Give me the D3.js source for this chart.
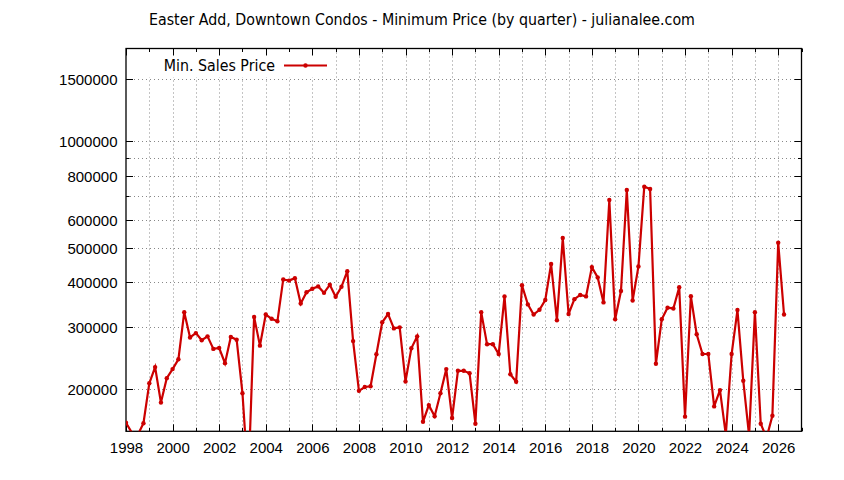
<!DOCTYPE html>
<html>
<head>
<meta charset="utf-8">
<script src="https://cdn.jsdelivr.net/npm/d3@7"></script>
<style>
  html, body { margin: 0; padding: 0; background: #fff; }
  svg { display: block; font-family: "DejaVu Sans Condensed", "DejaVu Sans", sans-serif; }
</style>
</head>
<body>
<svg id="chart" width="844" height="480"></svg>
<script>
const title = "Easter Add, Downtown Condos - Minimum Price (by quarter) - julianalee.com";
const seriesName = "Min. Sales Price";

const quarters = [
  "1998Q1","1998Q2","1998Q3","1998Q4",
  "1999Q1","1999Q2","1999Q3","1999Q4",
  "2000Q1","2000Q2","2000Q3","2000Q4",
  "2001Q1","2001Q2","2001Q3","2001Q4",
  "2002Q1","2002Q2","2002Q3","2002Q4",
  "2003Q1","2003Q2","2003Q3","2003Q4",
  "2004Q1","2004Q2","2004Q3","2004Q4",
  "2005Q1","2005Q2","2005Q3","2005Q4",
  "2006Q1","2006Q2","2006Q3","2006Q4",
  "2007Q1","2007Q2","2007Q3","2007Q4",
  "2008Q1","2008Q2","2008Q3","2008Q4",
  "2009Q1","2009Q2","2009Q3","2009Q4",
  "2010Q1","2010Q2","2010Q3","2010Q4",
  "2011Q1","2011Q2","2011Q3","2011Q4",
  "2012Q1","2012Q2","2012Q3","2012Q4",
  "2013Q1","2013Q2","2013Q3","2013Q4",
  "2014Q1","2014Q2","2014Q3","2014Q4",
  "2015Q1","2015Q2","2015Q3","2015Q4",
  "2016Q1","2016Q2","2016Q3","2016Q4",
  "2017Q1","2017Q2","2017Q3","2017Q4",
  "2018Q1","2018Q2","2018Q3","2018Q4",
  "2019Q1","2019Q2","2019Q3","2019Q4",
  "2020Q1","2020Q2","2020Q3","2020Q4",
  "2021Q1","2021Q2","2021Q3","2021Q4",
  "2022Q1","2022Q2","2022Q3","2022Q4",
  "2023Q1","2023Q2","2023Q3","2023Q4",
  "2024Q1","2024Q2","2024Q3","2024Q4",
  "2025Q1","2025Q2","2025Q3","2025Q4",
  "2026Q1","2026Q2"
];

const minPrice = [
  161000, 151000, 148500, 160500,
  208000, 231000, 183500, 215000,
  228000, 243000, 330000, 280000,
  288000, 275000, 282000, 260000,
  261500, 237000, 281000, 276000,
  195000, 110000, 320000, 265500,
  325000, 316000, 311000, 408000,
  405000, 411500, 349000, 375500,
  384000, 390000, 374000, 394000,
  364500, 389000, 430500, 273500,
  198000, 203000, 204000, 251000,
  309000, 326000, 297000, 299000,
  210500, 261000, 282000, 162000,
  180500, 168000, 195000, 228000,
  166000, 225500, 225500, 222000,
  160000, 330000, 268000, 268000,
  251500, 365500, 220500, 210000,
  393000, 347000, 325000, 335000,
  357000, 451000, 313000, 534000,
  326000, 359000, 369000, 365500,
  442000, 413500, 351500, 683000,
  315000, 378500, 729000, 356000,
  444000, 745000, 734000, 236000,
  315000, 339500, 338000, 388000,
  167500, 366000, 286000, 251500,
  251500, 179000, 199000, 149000,
  251500, 334500, 211500, 148000,
  330000, 160000, 146000, 168500,
  518000, 325000
];

const yTickValues = [200000, 300000, 400000, 500000, 600000, 700000, 800000, 900000, 1000000, 1500000];
const yTickLabels = ["200000", "300000", "400000", "500000", "600000", "", "800000", "", "1000000", "1500000"];
const xTickYears = d3.range(1998, 2028);
const xLabelYears = [1998, 2000, 2002, 2004, 2006, 2008, 2010, 2012, 2014, 2016, 2018, 2020, 2022, 2024, 2026];

const L = 126, R = 801.5, T = 48.5, B = 431.3;
const red = "#cc0000";
const fs = 15;
const fsText = 15.8;

const svg = d3.select("#chart");

const parseQ = s => +s.slice(0, 4) + (+s.slice(5) - 1) / 4;
const data = quarters.map((q, i) => ({ x: parseQ(q), y: minPrice[i] }));

const x = d3.scaleLinear().domain([1998, 2027]).range([L, R]);
const y = d3.scaleLog().domain([152300, 1826000]).range([B, T]);

// clip
svg.append("defs").append("clipPath").attr("id", "plotclip")
  .append("rect").attr("x", L).attr("y", T).attr("width", R - L).attr("height", B - T);

// grid
const grid = svg.append("g").attr("stroke", "#888").attr("stroke-width", 1).attr("stroke-dasharray", "1,3");
grid.selectAll("line.vx").data(xTickYears.filter(v => v > 1998 && v < 2027)).join("line")
  .attr("x1", d => Math.round(x(d)) + 0.5).attr("x2", d => Math.round(x(d)) + 0.5)
  .attr("y1", T).attr("y2", B);
grid.selectAll("line.hy").data(yTickValues).join("line")
  .attr("x1", L).attr("x2", R)
  .attr("y1", d => Math.round(y(d)) + 0.5).attr("y2", d => Math.round(y(d)) + 0.5);

// legend background box (blanks grid)
svg.append("rect").attr("x", L + 1).attr("y", T + 1).attr("width", 206).attr("height", 28).attr("fill", "#fff");

// axes with d3 axis generators (ticks inward)
const axBottom = d3.axisBottom(x).tickValues(xTickYears)
  .tickSize(0).tickFormat(d => xLabelYears.includes(d) ? d : "");
const gB = svg.append("g").attr("transform", `translate(0,${B})`).call(axBottom);
gB.select(".domain").remove();
gB.selectAll("text").attr("font-size", fs).attr("font-family", null).attr("fill", "#000").attr("dy", "1.45em").attr("y", 0);

const axLeft = d3.axisLeft(y).tickValues(yTickValues).tickSize(0)
  .tickFormat((d, i) => yTickLabels[i]);
const gL = svg.append("g").attr("transform", `translate(${L - 8.5},0)`).call(axLeft);
gL.select(".domain").remove();
gL.selectAll("text").attr("font-size", fs).attr("font-family", null).attr("fill", "#000").attr("x", 0).attr("dy", "0.36em");

// tick marks (inward, mirrored)
const ticks = svg.append("g").attr("stroke", "#000").attr("stroke-width", 1);
xTickYears.forEach(v => {
  const len = v % 2 === 0 ? 7 : 3.5;
  const px = Math.round(x(v)) + 0.5;
  ticks.append("line").attr("x1", px).attr("x2", px).attr("y1", B).attr("y2", B - len);
  ticks.append("line").attr("x1", px).attr("x2", px).attr("y1", T).attr("y2", T + len);
});
yTickValues.forEach((v, i) => {
  const len = yTickLabels[i] ? 7 : 3.5;
  const py = Math.round(y(v)) + 0.5;
  ticks.append("line").attr("x1", L).attr("x2", L + len).attr("y1", py).attr("y2", py);
  ticks.append("line").attr("x1", R).attr("x2", R - len).attr("y1", py).attr("y2", py);
});

// frame
svg.append("rect").attr("x", L).attr("y", T).attr("width", R - L).attr("height", B - T)
  .attr("fill", "none").attr("stroke", "#000").attr("stroke-width", 1.3);

// series
const plot = svg.append("g").attr("clip-path", "url(#plotclip)");
const line = d3.line().x(d => x(d.x)).y(d => y(d.y));
plot.append("path").datum(data).attr("d", line)
  .attr("fill", "none").attr("stroke", red).attr("stroke-width", 2.2).attr("stroke-linejoin", "miter");
plot.selectAll("circle").data(data.filter(d => d.y >= y.domain()[0])).join("circle")
  .attr("cx", d => x(d.x)).attr("cy", d => y(d.y)).attr("r", 2.2).attr("fill", red);

// legend
svg.append("text").attr("x", 275).attr("y", 71).attr("text-anchor", "end")
  .attr("font-size", fsText).text(seriesName);
svg.append("line").attr("x1", 284).attr("x2", 327).attr("y1", 65.5).attr("y2", 65.5)
  .attr("stroke", red).attr("stroke-width", 2.2);
svg.append("circle").attr("cx", 305.5).attr("cy", 65.5).attr("r", 2.2).attr("fill", red);

// title
svg.append("text").attr("x", 422).attr("y", 25).attr("text-anchor", "middle")
  .attr("font-size", fsText).text(title);
</script>
</body>
</html>
